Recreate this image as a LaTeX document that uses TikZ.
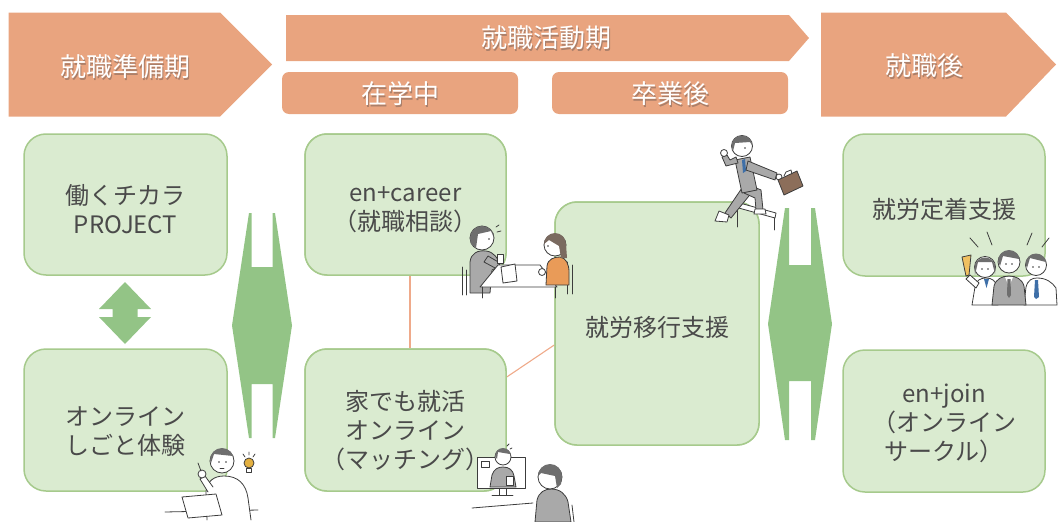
\documentclass[tikz,border=0pt]{standalone}
\usepackage{fontspec}
\newfontfamily\jp{Noto Sans CJK JP}

\definecolor{hdr}{HTML}{E9A47F}
\definecolor{hdrshade}{HTML}{9C7664}
\definecolor{boxfill}{HTML}{DAEBD0}
\definecolor{boxline}{HTML}{A6CA8C}
\definecolor{arrowgreen}{HTML}{93C486}
\definecolor{linkline}{HTML}{EFAA8A}
\definecolor{ink}{HTML}{4A4A4A}
\definecolor{figline}{HTML}{3C3C3C}
\definecolor{suit}{HTML}{A9A9A9}
\definecolor{hair}{HTML}{6E6E6E}
\definecolor{hairw}{HTML}{7A6A60}
\definecolor{toporange}{HTML}{E99B58}
\definecolor{brief}{HTML}{8C6E5A}
\definecolor{tieblue}{HTML}{3E6FA8}
\definecolor{bulb}{HTML}{E3B040}
\definecolor{flag}{HTML}{F0C060}

\tikzset{
  hdrtext/.style={font=\jp\fontsize{26}{26}\selectfont, text=white, inner sep=0},
  hdrshadow/.style={font=\jp\fontsize{26}{26}\selectfont, text=hdrshade, inner sep=0, opacity=0.8},
  subhdr/.style={fill=hdr, rounded corners=7, minimum height=42, inner sep=0},
  gbox/.style={draw=boxline, fill=boxfill, line width=1.5, rounded corners=22, inner sep=0},
  btext/.style={font=\jp\fontsize{24}{29}\selectfont, text=ink, align=center, inner sep=0},
  link/.style={draw=linkline, line width=1.1},
  greenarrow/.style={fill=arrowgreen},
  art/.style={draw=figline, line width=0.8, line join=round, line cap=round},
}

% white header text with a soft drop shadow
\newcommand\headertext[3]{%
  \node[hdrshadow, xshift=1.6pt, yshift=-1.6pt] (#1s) at (#2) {#3};
  \node[hdrtext] (#1) at (#2) {#3};}

\begin{document}
\begin{tikzpicture}[x=1pt,y=-1pt]
\useasboundingbox (0,0) rectangle (1058,522);

% ---------- phase headers ----------
\fill[hdr] (8.5,12.5) -- (220,12.5) -- (272,64.5) -- (220,116.5) -- (8.5,116.5) -- cycle;
\headertext{prep}{125,67}{就職準備期}

\fill[hdr] (286,15) -- (789,15) -- (809,38) -- (789,61) -- (286,61) -- cycle;
\headertext{hunt}{546,38}{就職活動期}

\node[subhdr, minimum width=236] (zaigaku) at (400,93) {};
\headertext{zaigakut}{400,94}{在学中}
\node[subhdr, minimum width=236] (sotsugyo) at (670,93) {};
\headertext{sotsugyot}{670,94}{卒業後}

\fill[hdr] (821,12.5) -- (1006,12.5) -- (1056,64.5) -- (1006,116.5) -- (821,116.5) -- cycle;
\headertext{after}{924,66}{就職後}

% ---------- connectors ----------
\node[gbox, minimum width=201, minimum height=141] (career) at (405.5,204.5) {};
\node[gbox, minimum width=201, minimum height=142] (home) at (405.5,420) {};
\node[gbox, minimum width=204, minimum height=243] (iko) at (657,323.5) {};
\draw[link] ([xshift=4.5pt]career.south) -- ([xshift=4.5pt]home.north);
\draw[link] ([yshift=43pt]home.east) -- ([yshift=-21.5pt]iko.west);
% redraw the boxes over the line ends
\node[gbox, minimum width=201, minimum height=141] (career2) at (405.5,204.5) {};
\node[gbox, minimum width=201, minimum height=142] (home2) at (405.5,420) {};
\node[gbox, minimum width=204, minimum height=243] (iko2) at (657,323.5) {};

% ---------- program boxes ----------
\node[gbox, minimum width=203, minimum height=141] (hata) at (125.5,204.5) {};
\node[gbox, minimum width=203, minimum height=142] (online) at (125.5,420) {};
\node[gbox, minimum width=202, minimum height=142] (teichaku) at (944,205) {};
\node[gbox, minimum width=202, minimum height=142] (join) at (944,421) {};

\node[btext] (hatat) at (125.5,209) {働くチカラ\\PROJECT};
\node[btext] (onlinet) at (125.5,432) {オンライン\\しごと体験};
\node[btext] (careert) at (405.5,210) {en+career\\（就職相談）};
\node[btext] (homet) at (405.5,431) {家でも就活\\オンライン\\（マッチング）};
\node[btext] (ikot) at (657,327) {就労移行支援};
\node[btext] (teichakut) at (944,209) {就労定着支援};
\node[btext] (joint) at (944,423) {en+join\\（オンライン\\サークル）};

% ---------- green arrows ----------
\fill[greenarrow] (125,282) -- (151,309) -- (137.5,309) -- (137.5,317) -- (151,317)
  -- (125,344) -- (99,317) -- (112.5,317) -- (112.5,309) -- (99,309) -- cycle;

\fill[greenarrow] (249,213) -- (251.5,213) -- (251.5,267) -- (272.5,267) -- (272.5,213)
  -- (275,213) -- (292,325.5) -- (275,438) -- (272.5,438) -- (272.5,384) -- (251.5,384)
  -- (251.5,438) -- (249,438) -- (232,325.5) -- cycle;

\fill[greenarrow] (785,208) -- (789,208) -- (789,265) -- (811,265) -- (811,208)
  -- (815,208) -- (832,324) -- (815,440) -- (811,440) -- (811,381) -- (789,381)
  -- (789,440) -- (785,440) -- (768,324) -- cycle;

% ---------- figure: student at a laptop ----------
\draw[art] (165,512) -- (258,510);
\filldraw[art, fill=white] (207,520) -- (206,492) .. controls (207,481) and (214,476) .. (224,476)
  .. controls (238,476) and (246,484) .. (248,498) -- (251,520);
\filldraw[art, fill=white] (208,492) -- (200,479) -- (205,476) -- (213,487);
\filldraw[art, fill=white] (202,474) circle (4);
\draw[art] (201,471) -- (198,463);
\filldraw[art, fill=white] (222,461) circle (12);
\fill[hair] (210,460) arc[start angle=180, end angle=360, radius=12] -- (233,456) -- (214,454) -- (211,463) -- cycle;
\fill[figline] (219,462) circle (0.9) (226,462) circle (0.9);
\draw[art] (220,468) -- (224,468);
\filldraw[art, fill=white] (182,497) -- (216,494) -- (222,515) -- (188,518) -- cycle;
\filldraw[art, fill=bulb] (249,463) circle (5);
\filldraw[art, fill=white] (246.5,468) rectangle (251.5,472);
\draw[art] (243,454) -- (245,457) (249,452) -- (249,455) (255,454) -- (253,457);

% ---------- figure: counselling at a table ----------
\draw[art] (462,267) -- (462,295) (466,270) -- (466,295);
\filldraw[art, fill=suit] (470,293) -- (470,262) .. controls (471,253) and (478,250) .. (486,251)
  .. controls (494,252) and (498,258) .. (500,266) -- (492,270) -- (490,293) -- cycle;
\filldraw[art, fill=white] (482,238) circle (12);
\fill[hair] (470,238) arc[start angle=180, end angle=360, radius=12] -- (491,231) -- (478,234) -- (476,248) -- (471,244) -- cycle;
\fill[figline] (489,239) circle (0.9);
\draw[art] (496,227) -- (499,225) (497,232) -- (501,231);
\filldraw[art, fill=suit] (484,262) -- (497,269) -- (500,263) -- (488,256) -- cycle;
\filldraw[art, fill=white] (497,254) rectangle (503,263);
\filldraw[art, fill=white] (498,265) -- (540,265) -- (557,287) -- (480,287) -- cycle;
\draw[art] (482,287) -- (482,298) (555,287) -- (555,298);
\filldraw[art, fill=white] (501,267) -- (515,264) -- (517,281) -- (503,283) -- cycle;
\draw[art] (567,262) -- (567,294) (572,265) -- (572,294);
\filldraw[art, fill=toporange] (546,285) -- (547,266) .. controls (548,259) and (554,257) .. (560,257)
  .. controls (566,258) and (569,264) .. (569,272) -- (569,285) -- cycle;
\filldraw[art, fill=white] (542,272) circle (3.5);
\filldraw[art, fill=white] (555,245) circle (11);
\fill[hairw] (544,244) arc[start angle=180, end angle=360, radius=11] -- (567,258) -- (561,258) -- (559,246) -- (549,240) -- cycle;
\fill[figline] (548,246) circle (0.9);

% ---------- figure: jumping a hurdle ----------
\filldraw[art, fill=white] (736,202) -- (776,213) -- (775,218) -- (735,207) -- cycle;
\draw[art] (737,207) -- (737,227) (774,218) -- (774,230);
\filldraw[art, fill=suit] (744,185) -- (753,191) -- (731,218) -- (725,213) -- cycle;
\filldraw[art, fill=white] (719,211) -- (729,215) -- (727,222) -- (715,221) -- cycle;
\filldraw[art, fill=suit] (747,184) -- (761,190) -- (763,210) -- (756,210) -- (755,198) -- (744,193) -- cycle;
\filldraw[art, fill=white] (755,209) -- (765,209) -- (766,214) -- (754,214) -- cycle;
\filldraw[art, fill=suit] (735,160) -- (750,157) -- (757,190) -- (742,193) -- cycle;
\fill[tieblue] (742,160) -- (745,159) -- (746,171) -- (743,173) -- cycle;
\filldraw[art, fill=suit] (748,161) -- (777,173) -- (775,180) -- (746,170) -- cycle;
\filldraw[art, fill=suit] (738,163) -- (726,166) -- (722,157) -- (727,155) -- (730,160) -- (736,157) -- cycle;
\filldraw[art, fill=white] (724,153) circle (3.5);
\filldraw[art, fill=white] (779,177) circle (3);
\filldraw[art, fill=brief] (778,180) -- (797,171) -- (803,186) -- (784,195) -- cycle;
\draw[art] (784,176) -- (786,172) -- (791,170) -- (792,174);
\filldraw[art, fill=white] (742,146) circle (10.5);
\fill[hair] (731.5,146) arc[start angle=180, end angle=360, radius=10.5] -- (750,142) -- (735,143) -- (733,151) -- cycle;
\fill[figline] (745,148) circle (0.9);

% ---------- figure: cheering colleagues ----------
\draw[art] (970,238) -- (978,247) (987,232) -- (992,245) (1032,233) -- (1027,245) (1049,238) -- (1042,247);
\filldraw[art, fill=white] (972,305) -- (975,287) .. controls (976,280) and (981,278) .. (986,278)
  .. controls (992,278) and (996,281) .. (997,287) -- (998,305) -- cycle;
\fill[tieblue] (984,279) -- (989,279) -- (986.5,288) -- cycle;
\filldraw[art, fill=white] (976,288) -- (966,279) -- (970,275) -- (979,283) -- cycle;
\filldraw[art, fill=flag] (962,257) -- (971,255) -- (969,275) -- (966,276) -- cycle;
\filldraw[art, fill=white] (985,267) circle (10.5);
\fill[hair] (974.5,268) arc[start angle=180, end angle=360, radius=10.5] -- (995,274) -- (992,262) -- (978,262) -- (975,275) -- cycle;
\filldraw[art, fill=white] (1024,305) -- (1026,287) .. controls (1028,280) and (1032,278) .. (1037,278)
  .. controls (1046,278) and (1052,282) .. (1056,288) -- (1057,305) -- cycle;
\fill[tieblue] (1035,280) -- (1038,280) -- (1039,297) -- (1036,299) -- (1034,297) -- cycle;
\filldraw[art, fill=white] (1036,265) circle (10.5);
\fill[hair] (1025.5,264) arc[start angle=180, end angle=360, radius=10.5] -- (1046,262) -- (1030,258) -- (1027,268) -- cycle;
\filldraw[art, fill=suit] (992,305) -- (994,286) .. controls (996,279) and (1002,276) .. (1009,276)
  .. controls (1016,276) and (1022,279) .. (1024,286) -- (1026,305) -- cycle;
\fill[white] (1005,277) -- (1013,277) -- (1009,287) -- cycle;
\fill[hair] (1007.5,279) -- (1010.5,279) -- (1011,295) -- (1009,298) -- (1007,295) -- cycle;
\filldraw[art, fill=white] (1009,262) circle (11);
\fill[hair] (998,261) arc[start angle=180, end angle=360, radius=11] -- (1019,259) -- (1003,256) -- (1000,266) -- cycle;
\fill[figline] (982,269) circle (0.8) (988,269) circle (0.8) (1006,264) circle (0.8) (1012,264) circle (0.8)
  (1033,267) circle (0.8) (1039,267) circle (0.8);

% ---------- figure: online interview ----------
\draw[art] (472,508) -- (533,503);
\filldraw[art, fill=white] (477,457) rectangle (525,488);
\filldraw[art, fill=white] (499,488) rectangle (506,495);
\draw[art] (492,495) -- (513,495);
\draw[art] (481,461) rectangle (489,467);
\filldraw[art, fill=suit] (490,487) -- (492,475) .. controls (494,469) and (498,467) .. (503,467)
  .. controls (509,467) and (513,470) .. (514,476) -- (516,487) -- cycle;
\filldraw[art, fill=white] (506,476) rectangle (513,485);
\filldraw[art, fill=white] (503,457) circle (8);
\fill[hair] (495,456) arc[start angle=180, end angle=360, radius=8] -- (510,454) -- (498,452) -- (497,459) -- cycle;
\draw[art] (507,446) -- (509,444) (510,449) -- (512,448);
\filldraw[art, fill=suit] (535,522) -- (537,500) .. controls (539,492) and (545,489) .. (551,489)
  .. controls (560,489) and (566,494) .. (568,502) -- (571,522) -- cycle;
\filldraw[art, fill=white] (550,477) circle (12);
\fill[hair] (538,476) arc[start angle=180, end angle=360, radius=12] -- (561,484) -- (557,488) -- (555,476) -- (541,473) -- cycle;
\draw[art] (572,505) -- (574,522);
\end{tikzpicture}
\end{document}
